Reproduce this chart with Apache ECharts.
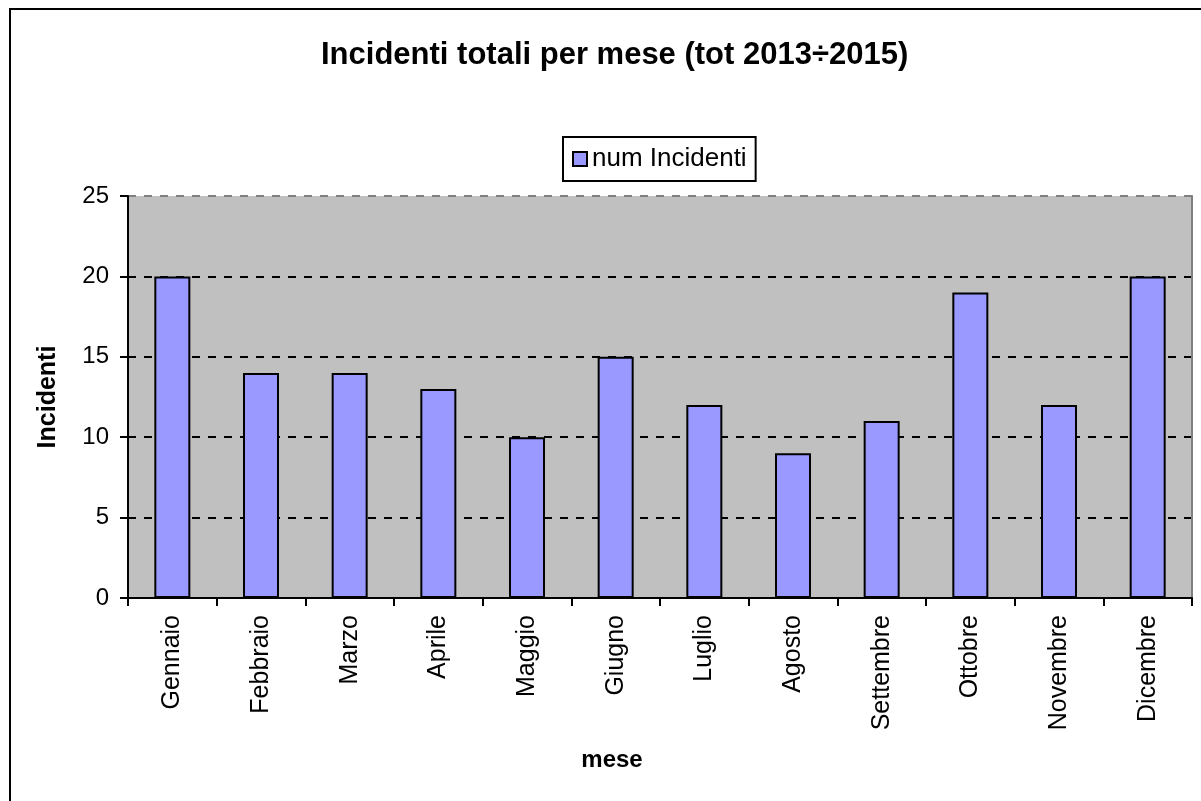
<!DOCTYPE html>
<html>
<head>
    <meta charset="utf-8">
    <title>Incidenti totali per mese</title>
    <script src="https://cdn.jsdelivr.net/npm/echarts@6/dist/echarts.min.js"></script>
    <style>
        html, body { margin: 0; padding: 0; background: #fff; }
    </style>
</head>
<body>

<div id="main" style="width: 1201px;height:801px;"></div>
<script type="text/javascript">
    // dati
    var mesi = ['Gennaio', 'Febbraio', 'Marzo', 'Aprile', 'Maggio', 'Giugno',
                'Luglio', 'Agosto', 'Settembre', 'Ottobre', 'Novembre', 'Dicembre'];
    var numIncidenti = [20, 14, 14, 13, 10, 15, 12, 9, 11, 19, 12, 20];
    var yTicks = [0, 5, 10, 15, 20, 25];

    var myChart = echarts.init(document.getElementById('main'));
    var font = '"Liberation Sans", Arial, sans-serif';

    var option = {
        animation: false,
        textStyle: { fontFamily: font, color: '#000' },
        title: {
            text: 'Incidenti totali per mese (tot 2013÷2015)',
            left: 316,
            top: 35,
            textStyle: { fontFamily: font, fontSize: 31, fontWeight: 'bold', color: '#000' }
        },
        legend: {
            data: ['num Incidenti'],
            left: 563,
            top: 137,
            padding: [9, 9, 9, 9],
            borderColor: '#000',
            borderWidth: 2,
            backgroundColor: '#fff',
            icon: 'rect',
            itemWidth: 14,
            itemHeight: 14,
            itemGap: 5,
            textStyle: { fontFamily: font, fontSize: 26, color: '#000' }
        },
        graphic: [{
            type: 'rect',
            shape: { x: 10, y: 9, width: 1400, height: 1000 },
            style: { fill: 'none', stroke: '#000', lineWidth: 2 },
            z: 100
        }],
        grid: {
            left: 128,
            right: 9,
            top: 196,
            bottom: 203,
            show: true,
            backgroundColor: '#C0C0C0',
            borderWidth: 0
        },
        xAxis: {
            type: 'category',
            data: mesi,
            name: 'mese',
            nameLocation: 'middle',
            nameGap: 150,
            nameTextStyle: {
                fontFamily: font, fontSize: 24, fontWeight: 'bold', color: '#000',
                padding: [0, 96, 0, 0]
            },
            axisLine: { lineStyle: { color: '#000', width: 2 } },
            axisTick: { show: true, length: 8, lineStyle: { color: '#000', width: 2 } },
            axisLabel: { rotate: 90, margin: 17, fontSize: 25, color: '#000', fontFamily: font }
        },
        yAxis: [{
            type: 'value',
            min: 0,
            max: 25,
            interval: 5,
            name: 'Incidenti',
            nameLocation: 'middle',
            nameGap: 67,
            nameTextStyle: { fontFamily: font, fontSize: 25, fontWeight: 'bold', color: '#000' },
            axisLine: { show: true, lineStyle: { color: '#000', width: 2 } },
            axisTick: { show: true, length: 8, lineStyle: { color: '#000', width: 2 } },
            axisLabel: {
                margin: 19, fontSize: 24, color: '#000', fontFamily: font,
                formatter: function (v) { return yTicks.indexOf(v) >= 0 ? String(v) : ''; }
            },
            splitLine: {
                show: true,
                lineStyle: {
                    type: [8, 8],
                    width: 2,
                    color: ['#000', '#000', '#000', '#000', '#000', '#808080']
                }
            }
        }, {
            type: 'value',
            position: 'right',
            min: 0,
            max: 25,
            interval: 5,
            axisLine: { show: true, lineStyle: { color: '#808080', width: 2 } },
            axisTick: { show: false },
            axisLabel: { show: false },
            splitLine: { show: false }
        }],
        series: [{
            name: 'num Incidenti',
            type: 'bar',
            data: numIncidenti,
            barWidth: 36,
            itemStyle: { color: '#9999FF', borderColor: '#000', borderWidth: 2 }
        }]
    };
    myChart.setOption(option);
</script>
</body>
</html>
